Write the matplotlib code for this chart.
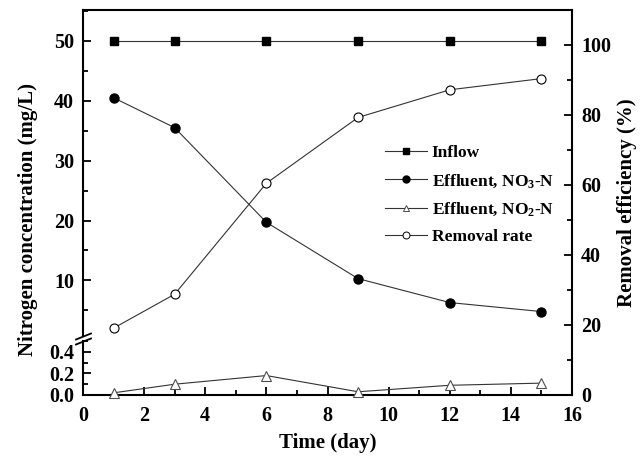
import matplotlib
matplotlib.use("Agg")
import matplotlib.pyplot as plt
from matplotlib.lines import Line2D
from matplotlib.ticker import MultipleLocator

plt.rcParams['font.family'] = ['Liberation Serif', 'DejaVu Serif']
plt.rcParams['font.weight'] = 'bold'
plt.rcParams['mathtext.fontset'] = 'custom'
plt.rcParams['mathtext.rm'] = 'Liberation Serif:bold'
plt.rcParams['mathtext.bf'] = 'Liberation Serif:bold'
plt.rcParams['mathtext.default'] = 'bf'

# data
days = [1, 3, 6, 9, 12, 15]
inflow = [50, 50, 50, 50, 50, 50]
no3 = [40.5, 35.5, 19.7, 10.3, 6.3, 4.8]
no2 = [0.02, 0.10, 0.18, 0.03, 0.09, 0.11]
removal = [19.1, 28.8, 60.5, 79.3, 87.2, 90.4]

W, H = 643, 458
fig = plt.figure(figsize=(W / 100, H / 100), dpi=100)

x0, x1 = 83, 572
y_top, y_bot = 10, 395
y_brk_up, y_brk_low = 335, 341

def rect(top, bot):
    return [x0 / W, (H - bot) / H, (x1 - x0) / W, (bot - top) / H]

tick_kw = dict(direction='in', width=1.3, labelsize=14.5, pad=6.5)

# full frame, right axis = removal efficiency
ax = fig.add_axes(rect(y_top, y_bot))
ax.set_xlim(0, 16)
ax.set_ylim(0, 110)
ax.spines['left'].set_visible(False)
for s in ['top', 'right', 'bottom']:
    ax.spines[s].set_linewidth(1.5)
ax.yaxis.tick_right()
ax.yaxis.set_label_position('right')
ax.set_yticks([0, 20, 40, 60, 80, 100])
ax.yaxis.set_minor_locator(MultipleLocator(10))
ax.xaxis.set_major_locator(MultipleLocator(2))
ax.xaxis.set_minor_locator(MultipleLocator(1))
ax.tick_params(which='major', length=6, **tick_kw)
ax.tick_params(axis='x', which='major', pad=8)
ax.tick_params(which='minor', length=3.5, direction='in', width=1.3)
ax.set_xlabel('Time (day)', fontsize=15, fontweight='bold', labelpad=5)
ax.set_ylabel('Removal efficiency (%)', fontsize=15, fontweight='bold', labelpad=4)
ax.patch.set_visible(False)

# upper part of the broken left axis
ax_up = fig.add_axes(rect(y_top, y_brk_up))
ax_up.set_xlim(0, 16)
lo = 10 - (y_brk_up - 280.5) / 5.98
hi = 50 + (40.8 - y_top) / 5.98
ax_up.set_ylim(lo, hi)
for s in ['top', 'right', 'bottom']:
    ax_up.spines[s].set_visible(False)
ax_up.spines['left'].set_linewidth(1.5)
ax_up.set_xticks([])
ax_up.set_yticks([10, 20, 30, 40, 50])
ax_up.yaxis.set_minor_locator(MultipleLocator(5))
ax_up.tick_params(which='major', length=6, **tick_kw)
ax_up.tick_params(which='minor', length=3.5, direction='in', width=1.3)
ax_up.patch.set_visible(False)

# lower part of the broken left axis
ax_low = fig.add_axes(rect(y_brk_low, y_bot))
ax_low.set_xlim(0, 16)
ax_low.set_ylim(0, 0.5)
for s in ['top', 'right', 'bottom']:
    ax_low.spines[s].set_visible(False)
ax_low.spines['left'].set_linewidth(1.5)
ax_low.set_xticks([])
ax_low.set_yticks([0.0, 0.2, 0.4])
ax_low.set_yticklabels(['0.0', '0.2', '0.4'])
ax_low.yaxis.set_minor_locator(MultipleLocator(0.1))
ax_low.tick_params(which='major', length=6, **tick_kw)
ax_low.tick_params(which='minor', length=3.5, direction='in', width=1.3)
ax_low.patch.set_visible(False)

lw = 0.8
ms = 6.5
ax_up.plot(days, inflow, '-', color='0.2', lw=lw, marker='s', ms=ms - 0.5,
           mfc='black', mec='black', clip_on=False)
ax_up.plot(days, no3, '-', color='0.2', lw=lw, marker='o', ms=ms,
           mfc='black', mec='black', clip_on=False)
ax_low.plot(days, no2, '-', color='0.2', lw=lw, marker='^', ms=ms,
            mfc='white', mec='0.3', mew=0.8, clip_on=False)
ax.plot(days, removal, '-', color='0.2', lw=lw, marker='o', ms=ms,
        mfc='white', mec='black', mew=0.8, clip_on=False)

# break marks
for yb in (336.5, 341.5):
    fig.add_artist(Line2D([(x0 - 7) / W, (x0 + 8) / W],
                          [(H - yb - 3) / H, (H - yb + 3) / H],
                          color='black', lw=1.3))

fig.text(28 / W, (H - 220) / H, 'Nitrogen concentration (mg/L)', rotation=90,
         ha='center', va='center', fontsize=15, fontweight='bold')

handles = [
    Line2D([], [], color='0.2', lw=lw, marker='s', ms=4.5, mfc='black', mec='black'),
    Line2D([], [], color='0.2', lw=lw, marker='o', ms=5, mfc='black', mec='black'),
    Line2D([], [], color='0.2', lw=lw, marker='^', ms=5, mfc='white', mec='0.3', mew=0.7),
    Line2D([], [], color='0.2', lw=lw, marker='o', ms=5, mfc='white', mec='black', mew=0.7),
]
labels = ['Inflow', r'Effluent, NO$_\mathbf{3}$-N', r'Effluent, NO$_\mathbf{2}$-N',
          'Removal rate']
leg = ax_low.legend(handles, labels, loc='upper left',
                    bbox_to_anchor=(378 / W, (H - 138) / H),
                    bbox_transform=fig.transFigure, frameon=False,
                    fontsize=12.5, handlelength=2.4, handletextpad=0.3,
                    labelspacing=0.62, borderaxespad=0)
for t in leg.get_texts():
    t.set_fontweight('bold')

fig.savefig('out.png', dpi=100)
